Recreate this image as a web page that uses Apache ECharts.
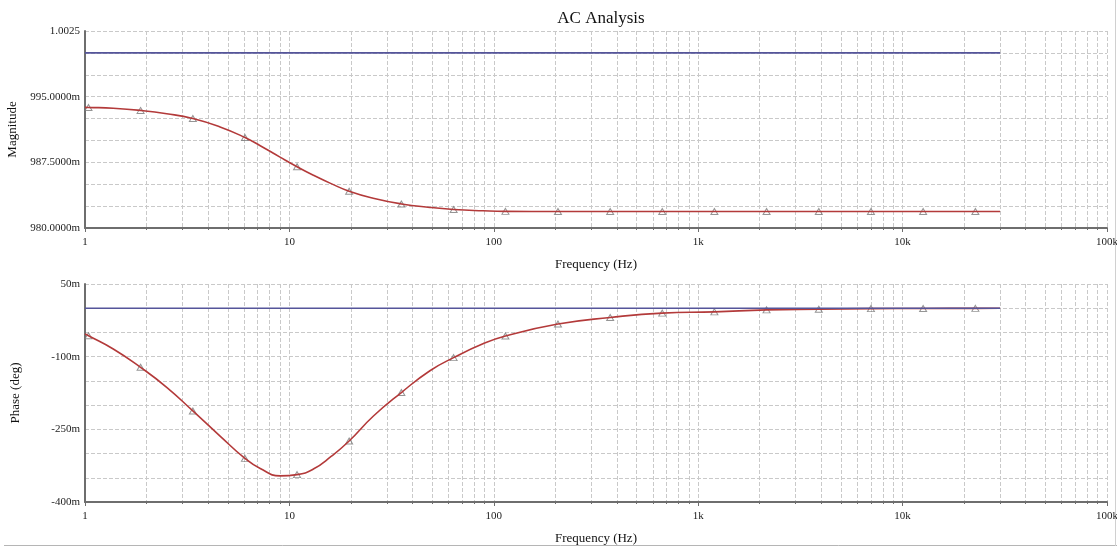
<!DOCTYPE html>
<html>
<head>
<meta charset="utf-8">
<title>AC Analysis</title>
<script src="https://cdn.jsdelivr.net/npm/echarts@6/dist/echarts.min.js"></script>
<style>
  html, body { margin: 0; padding: 0; background: #fff; }
  #echarts_main { width: 1117px; height: 547px; }
</style>
</head>
<body>
<div id="echarts_main"></div>
<script>
// frequencies (Hz)
var freqs = [1, 1.04, 1.375, 1.87, 2.51, 3.37, 4.58, 6.06, 7.2, 9.0, 10.9, 13.1, 16, 19.6, 25.7, 35.3, 48.7,
    63.6, 88.5, 114, 206, 371, 667, 1200, 2160, 3890, 7000, 12600, 22700, 30000];
// magnitude in milli units
var magValues = [993.78, 993.77, 993.68, 993.43, 993.05, 992.50, 991.54, 990.34, 989.40, 988.09, 987.0, 986.03,
    985.07, 984.2, 983.4, 982.75, 982.35, 982.12, 981.97, 981.9, 981.88, 981.88, 981.88, 981.88, 981.88,
    981.88, 981.88, 981.88, 981.88, 981.88];
// phase in milli degrees
var phaseValues = [-53.3, -56.8, -84.2, -122.0, -163.2, -212, -264, -310, -331, -346, -343.5, -332,
    -306, -274, -223, -174, -129, -102, -73.5, -57.5, -32.7, -19.1, -10.1, -7.5, -3.4,
    -2.0, -0.8, -0.5, -0.3, -0.2];
// where the triangle markers sit
var markerFreqs = [1.04, 1.87, 3.37, 6.06, 10.9, 19.6, 35.3, 63.6, 114, 206, 371, 667, 1200, 2160,
    3890, 7000, 12600, 22700];
// reference (blue) traces
var refFreqs = [1, 30000];
var refMag = [1000, 1000];
var refPhase = [0, 0];

var freqTickLabels = ['1', '10', '100', '1k', '10k', '100k'];
var magTicks = [980, 987.5, 995, 1002.5];
var magTickLabels = ['980.0000m', '987.5000m', '995.0000m', '1.0025'];
var phaseTicks = [-400, -250, -100, 50];
var phaseTickLabels = ['-400m', '-250m', '-100m', '50m'];

function pairs(xs, ys) {
    return xs.map(function (x, i) { return [x, ys[i]]; });
}
function markerPairs(ys) {
    return markerFreqs.map(function (f) { return [f, ys[freqs.indexOf(f)]]; });
}
function pickLabel(ticks, labels) {
    return function (v) {
        for (var i = 0; i < ticks.length; i++) {
            if (Math.abs(ticks[i] - v) < 1e-6) return labels[i];
        }
        return '';
    };
}

var serif = 'Liberation Serif';
var gridColor = '#c9c9c9';
var axisColor = '#6e6e6e';

function freqAxis(idx) {
    return {
        gridIndex: idx,
        type: 'log',
        logBase: 10,
        min: 1,
        max: 100000,
        name: 'Frequency (Hz)',
        nameLocation: 'middle',
        nameGap: 30,
        nameTextStyle: { fontFamily: serif, fontSize: 13, color: '#111' },
        axisLine: { show: true, onZero: false, lineStyle: { color: axisColor, width: 2 } },
        axisTick: { show: true, length: 4, lineStyle: { color: axisColor } },
        minorTick: { show: true, splitNumber: 9, length: 2, lineStyle: { color: axisColor } },
        splitLine: { show: true, lineStyle: { color: gridColor, type: 'dashed', width: 1 } },
        minorSplitLine: { show: true, lineStyle: { color: gridColor, type: 'dashed', width: 1 } },
        axisLabel: {
            fontFamily: serif, fontSize: 11, color: '#222', margin: 9,
            formatter: function (v) { return freqTickLabels[Math.round(Math.log10(v))]; }
        }
    };
}

function valueAxis(idx, name, min, max, step, ticks, labels) {
    return {
        gridIndex: idx,
        type: 'value',
        min: min,
        max: max,
        interval: step,
        name: name,
        nameLocation: 'middle',
        nameGap: 63,
        nameTextStyle: { fontFamily: serif, fontSize: 13, color: '#111' },
        axisLine: { show: true, lineStyle: { color: axisColor, width: 2 } },
        axisTick: { show: false },
        splitLine: { show: true, lineStyle: { color: gridColor, type: 'dashed', width: 1 } },
        axisLabel: {
            fontFamily: serif, fontSize: 11, color: '#222', margin: 5,
            formatter: pickLabel(ticks, labels)
        }
    };
}

var redLine = { color: '#b33a3a', width: 1.6 };
var blueLine = { color: '#55559a', width: 1.6 };
var markerStyle = { color: 'rgba(255,255,255,0)', borderColor: '#7a7a7a', borderWidth: 1 };

var myChart = echarts.init(document.getElementById('echarts_main'));

var option = {
    backgroundColor: '#fff',
    animation: false,
    title: {
        text: 'AC Analysis',
        left: 596,
        textAlign: 'center',
        top: 5,
        textStyle: { fontFamily: serif, fontSize: 17, fontWeight: 'normal', color: '#111' }
    },
    grid: [
        { left: 85, right: 10, top: 31, height: 197, outerBoundsMode: 'none' },
        { left: 85, right: 10, top: 284, height: 218, outerBoundsMode: 'none' }
    ],
    xAxis: [freqAxis(0), freqAxis(1)],
    yAxis: [
        valueAxis(0, 'Magnitude', 980, 1002.5, 2.5, magTicks, magTickLabels),
        valueAxis(1, 'Phase (deg)', -400, 50, 50, phaseTicks, phaseTickLabels)
    ],
    series: [
        {
            type: 'line', xAxisIndex: 0, yAxisIndex: 0, silent: true,
            data: pairs(freqs, magValues), smooth: 0.5, showSymbol: false,
            lineStyle: redLine
        },
        {
            type: 'scatter', xAxisIndex: 0, yAxisIndex: 0, silent: true,
            data: markerPairs(magValues), symbol: 'triangle', symbolSize: [7, 6],
            itemStyle: markerStyle
        },
        {
            type: 'line', xAxisIndex: 0, yAxisIndex: 0, silent: true,
            data: pairs(refFreqs, refMag), showSymbol: false, lineStyle: blueLine
        },
        {
            type: 'line', xAxisIndex: 1, yAxisIndex: 1, silent: true,
            data: pairs(freqs, phaseValues), smooth: 0.5, showSymbol: false,
            lineStyle: redLine
        },
        {
            type: 'line', xAxisIndex: 1, yAxisIndex: 1, silent: true,
            data: pairs(refFreqs, refPhase), showSymbol: false, lineStyle: blueLine
        },
        {
            type: 'scatter', xAxisIndex: 1, yAxisIndex: 1, silent: true,
            data: markerPairs(phaseValues), symbol: 'triangle', symbolSize: [7, 6],
            itemStyle: markerStyle
        }
    ],
    graphic: [
        { type: 'line', shape: { x1: 4, y1: 545.5, x2: 1117, y2: 545.5 }, style: { stroke: '#b5b5b5', lineWidth: 1 } },
        { type: 'line', shape: { x1: 1115.5, y1: 0, x2: 1115.5, y2: 546 }, style: { stroke: '#d0d0d0', lineWidth: 1 } }
    ]
};

myChart.setOption(option);
</script>
</body>
</html>
